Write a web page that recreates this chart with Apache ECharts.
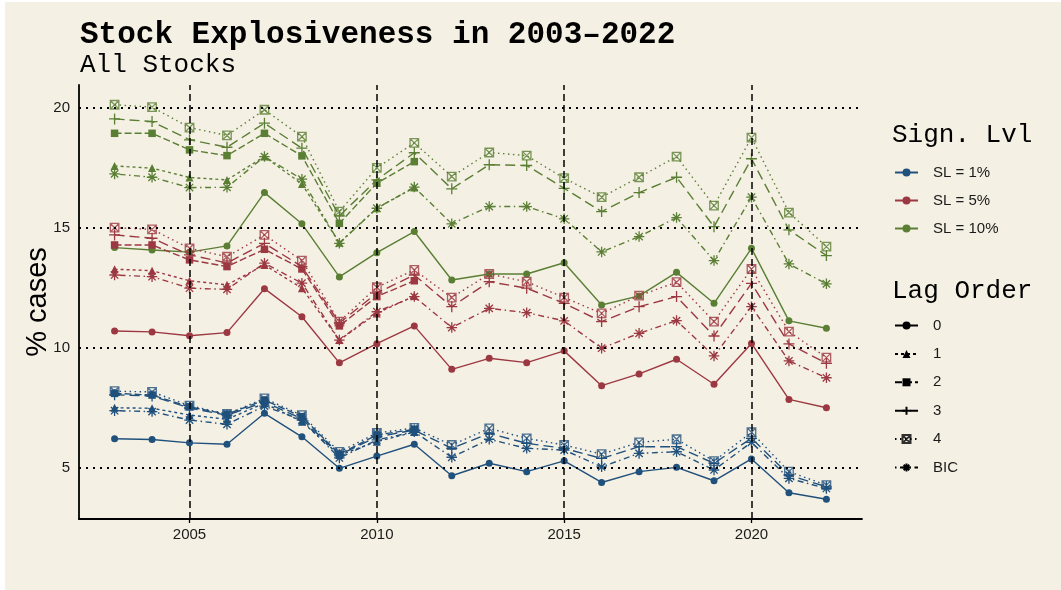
<!DOCTYPE html>
<html>
<head>
<meta charset="utf-8">
<script src="https://cdn.jsdelivr.net/npm/echarts@6/dist/echarts.min.js"></script>
<style>
  html, body { margin: 0; padding: 0; background: #ffffff; }
  #chart { width: 1061px; height: 590px; }
</style>
</head>
<body>
<div id="chart"></div>
<script>
// ---------------- data ----------------
const years = [2003, 2004, 2005, 2006, 2007, 2008, 2009, 2010, 2011, 2012,
               2013, 2014, 2015, 2016, 2017, 2018, 2019, 2020, 2021, 2022];

const xTicks = [2005, 2010, 2015, 2020];
const yTicks = [5, 10, 15, 20];

const slNames = ['SL = 1%', 'SL = 5%', 'SL = 10%'];
const lagNames = ['0', '1', '2', '3', '4', 'BIC'];

// SL = 1%
const sl1_lag0 = [6.22, 6.19, 6.05, 5.99, 7.28, 6.30, 4.99, 5.50, 5.99, 4.68, 5.20, 4.85, 5.30, 4.40, 4.85, 5.03, 4.47, 5.38, 3.97, 3.70];
const sl1_lag1 = [7.51, 7.49, 7.21, 7.03, 7.70, 6.93, 5.54, 6.10, 6.50, null, null, null, null, null, null, null, null, null, null, null];
const sl1_lag2 = [8.11, 8.04, 7.55, 7.24, 7.83, 7.14, 5.58, 6.38, 6.61, null, null, null, null, null, null, null, null, null, null, null];
const sl1_lag3 = [8.05, 8.00, 7.50, 7.20, 7.75, 7.05, 5.55, 6.30, 6.58, 5.82, 6.44, 6.03, 5.82, 5.40, 5.89, 5.89, 5.20, 6.24, 4.71, 4.22];
const sl1_lag4 = [8.20, 8.17, 7.60, 7.25, 7.90, 7.20, 5.67, 6.46, 6.67, 5.96, 6.65, 6.24, 5.96, 5.58, 6.07, 6.20, 5.29, 6.49, 4.85, 4.29];
const sl1_bic  = [7.39, 7.35, 7.00, 6.82, 7.58, 7.00, 5.42, 6.17, 6.51, 5.45, 6.20, 5.82, 5.75, 5.05, 5.61, 5.68, 4.92, 6.07, 4.57, 4.15];

// SL = 5%
const sl5_lag0 = [10.71, 10.67, 10.51, 10.64, 12.47, 11.30, 9.38, 10.18, 10.92, 9.11, 9.57, 9.39, 9.88, 8.43, 8.92, 9.53, 8.49, 10.19, 7.86, 7.51];
const sl5_lag1 = [13.28, 13.22, 12.80, 12.63, 13.46, 12.49, 10.33, 11.44, 12.17, null, null, null, null, null, null, null, null, null, null, null];
const sl5_lag2 = [14.29, 14.29, 13.67, 13.39, 14.11, 13.29, 10.92, 12.14, 12.80, null, null, null, null, null, null, null, null, null, null, null];
const sl5_lag3 = [14.71, 14.57, 13.88, 13.54, 14.36, 13.39, 11.04, 12.29, 13.04, 11.72, 12.76, 12.49, 11.86, 11.10, 11.72, 12.14, 10.50, 12.69, 10.17, 9.36];
const sl5_lag4 = [15.01, 14.94, 14.15, 13.80, 14.71, 13.64, 11.10, 12.53, 13.25, 12.10, 13.08, 12.76, 12.10, 11.44, 12.18, 12.74, 11.10, 13.29, 10.68, 9.60];
const sl5_bic  = [13.04, 12.97, 12.49, 12.44, 13.53, 12.70, 10.33, 11.51, 12.14, 10.85, 11.65, 11.47, 11.13, 9.99, 10.61, 11.14, 9.67, 11.72, 9.46, 8.76];

// SL = 10%
const sl10_lag0 = [14.18, 14.08, 13.99, 14.25, 16.47, 15.17, 12.96, 13.97, 14.85, 12.83, 13.08, 13.08, 13.55, 11.79, 12.17, 13.15, 11.86, 14.15, 11.13, 10.82];
const sl10_lag1 = [17.58, 17.49, 17.10, 17.00, 17.97, 16.83, 14.38, 15.82, 16.68, null, null, null, null, null, null, null, null, null, null, null];
const sl10_lag2 = [18.94, 18.94, 18.25, 18.01, 18.94, 18.00, 15.19, 16.86, 17.76, null, null, null, null, null, null, null, null, null, null, null];
const sl10_lag3 = [19.54, 19.43, 18.67, 18.36, 19.36, 18.32, 15.50, 17.00, 18.13, 16.63, 17.63, 17.60, 16.65, 15.68, 16.47, 17.11, 15.05, 17.88, 14.92, 13.85];
const sl10_lag4 = [20.13, 20.03, 19.18, 18.85, 19.92, 18.80, 15.68, 17.50, 18.54, 17.14, 18.14, 18.01, 17.07, 16.28, 17.11, 17.97, 15.93, 18.76, 15.64, 14.22];
const sl10_bic  = [17.25, 17.11, 16.68, 16.69, 17.97, 17.03, 14.36, 15.82, 16.70, 15.17, 15.89, 15.89, 15.38, 14.00, 14.64, 15.43, 13.64, 16.28, 13.50, 12.67];

// ---------------- styling ----------------
const slColors = ['#20507c', '#9c3842', '#5a7f34'];
const groups = [
  [sl1_lag0, sl1_lag1, sl1_lag2, sl1_lag3, sl1_lag4, sl1_bic],
  [sl5_lag0, sl5_lag1, sl5_lag2, sl5_lag3, sl5_lag4, sl5_bic],
  [sl10_lag0, sl10_lag1, sl10_lag2, sl10_lag3, sl10_lag4, sl10_bic]
];

const plusPath = 'path://M0,5L10,5M5,0L5,10';
const boxXPath = 'path://M0,0L10,0L10,10L0,10ZM0,0L10,10M10,0L0,10';
const starPath = 'path://M5,0L5,10M0,5L10,5M1.5,1.5L8.5,8.5M8.5,1.5L1.5,8.5';
const lagSymbol = ['circle', 'triangle', 'rect', plusPath, boxXPath, starPath];
const lagSize = [7, 8, 7.5, 11, 8.5, 10.5];
const lagStrokeOnly = [false, false, false, true, true, true];
const lagDash = ['solid', [3, 3], [7, 3], [10, 5], [1.5, 3.5], [1.5, 3.5, 6, 3.5]];
const lineW = 1.4;

function itemStyleFor(l, col) {
  if (lagStrokeOnly[l]) {
    return { color: 'none', borderColor: col, borderWidth: 1.3, opacity: l === 4 ? 0.8 : 1 };
  }
  return { color: col, borderWidth: 0 };
}

// y range with 5% expansion like ggplot
const allVals = groups.flat(2).filter(v => v != null);
const yMinD = Math.min(...allVals), yMaxD = Math.max(...allVals);
const yPad = (yMaxD - yMinD) * 0.05;
const xPad = (years[years.length - 1] - years[0]) * 0.05;

const series = [];
// grid lines via markLine on the axes' own scales
series.push({
  type: 'line', name: '__grid', data: [], z: 1, silent: true,
  markLine: {
    silent: true, symbol: 'none', label: { show: false }, animation: false,
    data: [
      ...yTicks.map(v => ({ yAxis: v, lineStyle: { color: '#000', width: 2, type: [2, 5] } })),
      ...xTicks.map(v => ({ xAxis: v, lineStyle: { color: '#000', width: 1.5, type: [7, 4] } }))
    ]
  }
});

for (let c = 2; c >= 0; c--) {
  for (let l = 0; l < 6; l++) {
    const vals = groups[c][l];
    series.push({
      type: 'line',
      name: l === 0 ? slNames[c] : slNames[c] + ' / lag ' + lagNames[l],
      data: years.map((y, i) => [y, vals[i]]),
      connectNulls: false,
      symbol: lagSymbol[l],
      symbolSize: lagSize[l],
      showSymbol: true,
      lineStyle: { color: slColors[c], width: lineW, type: lagDash[l] },
      itemStyle: itemStyleFor(l, slColors[c]),
      emphasis: { disabled: true },
      z: 3
    });
  }
}
// legend-only series for lag order (black keys)
for (let l = 0; l < 6; l++) {
  series.push({
    type: 'line', name: lagNames[l], data: [],
    symbol: lagSymbol[l], symbolSize: lagSize[l],
    lineStyle: { color: '#000', width: lineW, type: lagDash[l] },
    itemStyle: itemStyleFor(l, '#000')
  });
}

const sans = 'Liberation Sans, Helvetica, Arial, sans-serif';
const mono = 'Liberation Mono, Courier New, monospace';

const chart = echarts.init(document.getElementById('chart'), null, { renderer: 'canvas' });
chart.setOption({
  animation: false,
  backgroundColor: '#ffffff',
  grid: { left: 79, right: 199, top: 85, bottom: 71, containLabel: false },
  xAxis: {
    type: 'value',
    min: years[0] - xPad, max: years[years.length - 1] + xPad,
    axisLine: { show: true, onZero: false, lineStyle: { color: '#000', width: 1.8 } },
    axisTick: { show: true, customValues: xTicks, length: 4, lineStyle: { color: '#000', width: 1.3 } },
    axisLabel: { customValues: xTicks, formatter: v => String(v), color: '#1a1a1a', fontFamily: sans, fontSize: 15, margin: 8 },
    splitLine: { show: false }
  },
  yAxis: {
    type: 'value',
    min: yMinD - yPad, max: yMaxD + yPad,
    axisLine: { show: true, onZero: false, lineStyle: { color: '#000', width: 1.8 } },
    axisTick: { show: false },
    axisLabel: { customValues: yTicks, formatter: v => String(v), color: '#1a1a1a', fontFamily: sans, fontSize: 15, margin: 9 },
    splitLine: { show: false }
  },
  legend: [
    {
      data: slNames, orient: 'vertical', left: 889, top: 160,
      itemWidth: 23, itemHeight: 10, itemGap: 13, selectedMode: false,
      textStyle: { fontFamily: sans, fontSize: 15, color: '#1a1a1a', padding: [0, 0, 0, 10] }
    },
    {
      data: lagNames, orient: 'vertical', left: 889, top: 313,
      itemWidth: 23, itemHeight: 10, itemGap: 13.4, selectedMode: false,
      textStyle: { fontFamily: sans, fontSize: 15, color: '#1a1a1a', padding: [0, 0, 0, 10] }
    }
  ],
  graphic: [
    { type: 'rect', z: -100, silent: true, shape: { x: 5, y: 2, width: 1056, height: 588 }, style: { fill: '#f5f0e4' } },
    { type: 'text', x: 80, y: 35, silent: true,
      style: { text: 'Stock Explosiveness in 2003\u20132022', font: 'bold 31px ' + mono, fill: '#000', align: 'left', verticalAlign: 'middle' } },
    { type: 'text', x: 80, y: 65, silent: true,
      style: { text: 'All Stocks', font: '26px ' + mono, fill: '#000', align: 'left', verticalAlign: 'middle' } },
    { type: 'text', x: 892, y: 135, silent: true,
      style: { text: 'Sign. Lvl', font: '26px ' + mono, fill: '#000', align: 'left', verticalAlign: 'middle' } },
    { type: 'text', x: 892, y: 291, silent: true,
      style: { text: 'Lag Order', font: '26px ' + mono, fill: '#000', align: 'left', verticalAlign: 'middle' } },
    { type: 'text', x: 38, y: 302, rotation: Math.PI / 2, silent: true,
      style: { text: '% cases', font: '29px ' + sans, fill: '#000', align: 'center', verticalAlign: 'middle' } }
  ],
  series: series
});
</script>
</body>
</html>
